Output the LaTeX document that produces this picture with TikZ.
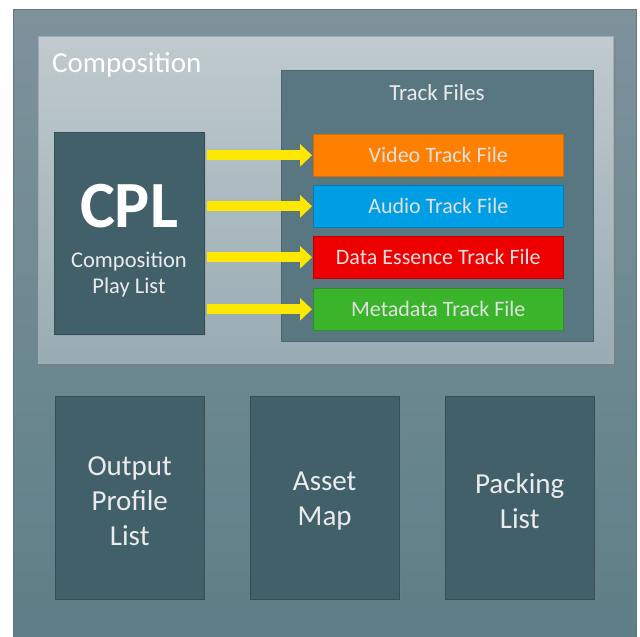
\documentclass[tikz,border=0pt]{standalone}
\usepackage{fontspec}
\setmainfont{Carlito}
\usetikzlibrary{arrows.meta,shadows,positioning}
\definecolor{outerTop}{RGB}{126,146,156}
\definecolor{outerBot}{RGB}{94,127,135}
\definecolor{compTop}{RGB}{192,202,207}
\definecolor{compBot}{RGB}{152,172,179}
\definecolor{trackBg}{RGB}{88,119,129}
\definecolor{darkBox}{RGB}{66,96,106}
\definecolor{vidC}{RGB}{255,127,0}
\definecolor{audC}{RGB}{0,158,228}
\definecolor{datC}{RGB}{238,0,0}
\definecolor{metC}{RGB}{58,180,42}
\definecolor{yelC}{RGB}{255,232,0}
\tikzset{
  pane/.style={rectangle, inner sep=0pt, anchor=north west},
  darkpane/.style={pane, fill=darkBox, draw=darkBox!80!black, line width=0.4pt,
     drop shadow={shadow xshift=1.5pt, shadow yshift=-1.5pt, opacity=0.25}},
  barbox/.style={rectangle, inner sep=0pt, anchor=north west, minimum width=250pt,
     minimum height=42pt, line width=0.6pt, text=white!88!black,
     font=\fontsize{22}{26}\selectfont},
  yarrow/.style={draw=yelC, line width=10pt,
     -{Triangle[length=12pt, width=22pt]}, shorten >=1pt},
  boxtext/.style={text=white!92!black, align=center, inner sep=0pt},
}
\begin{document}
\begin{tikzpicture}[x=1pt,y=-1pt]
\useasboundingbox (0,0) rectangle (640,637);
\fill[white] (0,0) rectangle (640,637);
% outer panel
\node[pane, minimum width=623pt, minimum height=630pt, top color=outerTop,
  bottom color=outerBot, draw=outerTop!80!black, line width=0.5pt] (outer) at (13,9) {};
% composition panel
\node[pane, minimum width=575pt, minimum height=327pt, top color=compTop,
  bottom color=compBot, draw=compTop!85!black, line width=0.5pt,
  drop shadow={shadow xshift=3pt, shadow yshift=-3pt, opacity=0.45}] (comp) at (38,36) {};
\node[anchor=base west, inner sep=0pt, text=white, font=\fontsize{29}{33}\selectfont] (comptitle) at (52,72) {Composition};
% track files panel
\node[pane, minimum width=312pt, minimum height=271pt, fill=trackBg,
  draw=trackBg!85!black, line width=0.4pt] (tracks) at (281,70) {};
\node[anchor=base, inner sep=0pt, text=white!92!black, font=\fontsize{23}{26}\selectfont] (tftitle) at (437,100) {Track Files};
% CPL box
\node[darkpane, minimum width=150pt, minimum height=202pt] (cpl) at (54,132) {};
\node[anchor=base, inner sep=0pt, text=white, font=\bfseries\fontsize{66}{70}\selectfont] (cpltitle) at (129,227) {CPL};
\node[anchor=base, boxtext, font=\fontsize{22.5}{26}\selectfont] (cplsub) at (129,293) {Composition\\Play List};
% track bars
\node[barbox, fill=vidC, draw=vidC!85!black] (vid) at (313,134) {Video Track File};
\node[barbox, fill=audC, draw=audC!80!black] (aud) at (313,185) {Audio Track File};
\node[barbox, fill=datC, draw=datC!80!black] (dat) at (313,236) {Data Essence Track File};
\node[barbox, fill=metC, draw=metC!80!black] (met) at (313,288) {Metadata Track File};
% yellow arrows
\draw[yarrow] ([xshift=3pt]cpl.east |- vid.west) -- (vid.west);
\draw[yarrow] ([xshift=3pt]cpl.east |- aud.west) -- (aud.west);
\draw[yarrow] ([xshift=3pt]cpl.east |- dat.west) -- (dat.west);
\draw[yarrow] ([xshift=3pt]cpl.east |- met.west) -- (met.west);
% bottom boxes
\node[darkpane, minimum width=149pt, minimum height=203pt] (opl) at (55,396) {};
\node[boxtext, font=\fontsize{29}{35}\selectfont] (opltext) at ([yshift=-3pt]opl.center) {Output\\Profile\\List};
\node[darkpane, minimum width=149pt, minimum height=203pt] (am) at (250,396) {};
\node[boxtext, font=\fontsize{29}{35}\selectfont] (amtext) at ([yshift=-3pt]am.center) {Asset\\Map};
\node[darkpane, minimum width=149pt, minimum height=203pt] (pkl) at (445,396) {};
\node[boxtext, font=\fontsize{29}{35}\selectfont] (pkltext) at ([yshift=-3pt]pkl.center) {Packing\\List};
\end{tikzpicture}
\end{document}
